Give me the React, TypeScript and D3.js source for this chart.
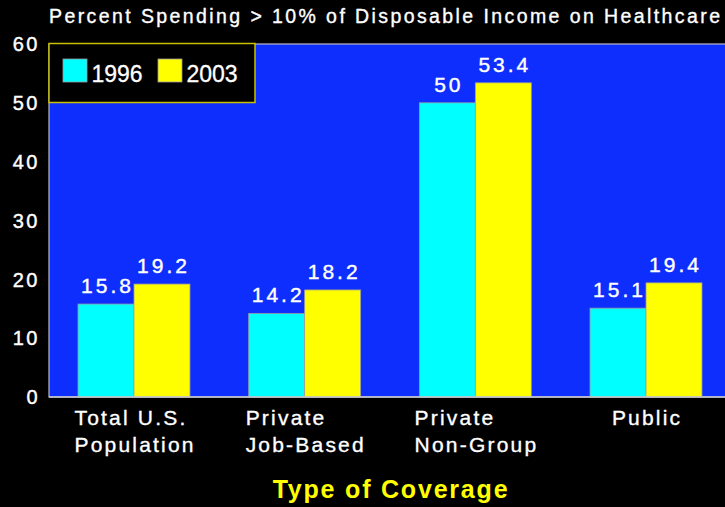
import React, { useEffect, useRef } from "react";
import * as d3 from "d3";

const titleText = "Percent Spending > 10% of Disposable Income on Healthcare";
const axisTitle = "Type of Coverage";
const categories = ["Total U.S.|Population", "Private|Job-Based", "Private|Non-Group", "Public"];
const seriesNames = ["1996", "2003"];
const values1996 = [15.8, 14.2, 50, 15.1];
const values2003 = [19.2, 18.2, 53.4, 19.4];
const yTicks = [0, 10, 20, 30, 40, 50, 60];
const seriesColors = ["#00ffff", "#ffff00"];

const W = 725;
const H = 507;
const FONT = "'Liberation Sans', Arial, Helvetica, sans-serif";

export default function App() {
  const ref = useRef<SVGSVGElement | null>(null);

  useEffect(() => {
    document.body.style.margin = "0";
    document.body.style.background = "#000";
    const svg = d3.select(ref.current);
    svg.selectAll("*").remove();

    const plot = { left: 49, right: 731, top: 44, bottom: 397 };

    const x = d3
      .scaleBand<string>()
      .domain(categories)
      .range([plot.left, plot.right])
      .paddingInner(0.344)
      .paddingOuter(0.17);
    const xs = d3.scaleBand<string>().domain(seriesNames).range([0, x.bandwidth()]).padding(0);
    const y = d3.scaleLinear().domain([0, 60]).range([plot.bottom, plot.top]);

    svg.append("rect").attr("x", 0).attr("y", 0).attr("width", W).attr("height", H).attr("fill", "#000");

    // plot area
    svg
      .append("rect")
      .attr("x", plot.left)
      .attr("y", plot.top)
      .attr("width", plot.right - plot.left)
      .attr("height", plot.bottom - plot.top)
      .attr("fill", "#0e2efd")
      .attr("stroke", "#b8b8c8")
      .attr("stroke-width", 1.2);

    // title
    svg
      .append("text")
      .attr("x", 49)
      .attr("y", 23)
      .attr("fill", "#fff")
      .attr("font-family", FONT)
      .attr("font-size", 19.5)
      .attr("stroke", "#fff")
      .attr("stroke-width", 0.35)
      .attr("textLength", 671)
      .attr("lengthAdjust", "spacing")
      .text(titleText);

    // y ticks
    svg
      .selectAll("text.ytick")
      .data(yTicks)
      .join("text")
      .attr("class", "ytick")
      .attr("x", 40)
      .attr("y", (d) => y(d))
      .attr("dy", "0.36em")
      .attr("text-anchor", "end")
      .attr("fill", "#fff")
      .attr("stroke", "#fff")
      .attr("stroke-width", 0.4)
      .attr("font-family", FONT)
      .attr("font-size", 20)
      .attr("letter-spacing", 2.5)
      .text((d) => String(d));

    const rows = categories.map((c, i) => ({ c, vals: [values1996[i], values2003[i]] }));

    const groups = svg
      .selectAll("g.grp")
      .data(rows)
      .join("g")
      .attr("class", "grp")
      .attr("transform", (d) => `translate(${x(d.c)},0)`);

    groups
      .selectAll("rect")
      .data((d) => d.vals.map((v, j) => ({ v, s: seriesNames[j], j })))
      .join("rect")
      .attr("x", (d) => xs(d.s)!)
      .attr("y", (d) => y(d.v))
      .attr("width", xs.bandwidth())
      .attr("height", (d) => y(0) - y(d.v))
      .attr("fill", (d) => seriesColors[d.j])
      .attr("stroke", "#9a9aa0")
      .attr("stroke-width", 0.8);

    groups
      .selectAll("text.val")
      .data((d) => d.vals.map((v, j) => ({ v, s: seriesNames[j], j })))
      .join("text")
      .attr("class", "val")
      .attr("x", (d) => xs(d.s)! + xs.bandwidth() / 2 + 1.5)
      .attr("y", (d) => y(d.v) - 11)
      .attr("text-anchor", "middle")
      .attr("fill", "#fff")
      .attr("stroke", "#fff")
      .attr("stroke-width", 0.4)
      .attr("font-family", FONT)
      .attr("font-size", 21)
      .attr("letter-spacing", 3)
      .text((d) => String(d.v));

    // bottom axis line
    svg
      .append("line")
      .attr("x1", plot.left)
      .attr("x2", plot.right)
      .attr("y1", plot.bottom)
      .attr("y2", plot.bottom)
      .attr("stroke", "#c8c8d0")
      .attr("stroke-width", 1.5);

    // category labels
    categories.forEach((c) => {
      const lines = c.split("|");
      const g = svg.append("g");
      const t = g
        .append("text")
        .attr("fill", "#fff")
        .attr("stroke", "#fff")
        .attr("stroke-width", 0.35)
        .attr("font-family", FONT)
        .attr("font-size", 21)
        .attr("letter-spacing", 2.2);
      lines.forEach((ln, k) => {
        t.append("tspan").attr("x", 0).attr("y", 425 + k * 26.7).text(ln);
      });
      const bb = (t.node() as SVGTextElement).getBBox();
      const cx = x(c)! + x.bandwidth() / 2;
      g.attr("transform", `translate(${cx - (bb.width - 2.2) / 2},0)`);
    });

    // axis title
    svg
      .append("text")
      .attr("x", (plot.left + plot.right) / 2 + 1)
      .attr("y", 498)
      .attr("text-anchor", "middle")
      .attr("fill", "#ffff00")
      .attr("font-family", FONT)
      .attr("font-weight", "bold")
      .attr("font-size", 25)
      .attr("letter-spacing", 1.8)
      .text(axisTitle);

    // legend
    const lg = svg.append("g");
    lg.append("rect")
      .attr("x", 49)
      .attr("y", 43.5)
      .attr("width", 206)
      .attr("height", 59)
      .attr("fill", "#000")
      .attr("stroke", "#c8c000")
      .attr("stroke-width", 1.5);
    const legendX = d3.scaleOrdinal<string, number>().domain(seriesNames).range([63, 158]);
    seriesNames.forEach((s, j) => {
      lg.append("rect")
        .attr("x", legendX(s))
        .attr("y", 59)
        .attr("width", 24)
        .attr("height", 23)
        .attr("fill", seriesColors[j])
        .attr("stroke", "#9a9aa0")
        .attr("stroke-width", 0.8);
      lg.append("text")
        .attr("x", legendX(s) + 28.5)
        .attr("y", 81.7)
        .attr("fill", "#fff")
        .attr("stroke", "#fff")
        .attr("stroke-width", 0.3)
        .attr("font-family", FONT)
        .attr("font-size", 23)
        .text(s);
    });
  }, []);

  return <svg ref={ref} width={W} height={H} style={{ display: "block" }} />;
}
